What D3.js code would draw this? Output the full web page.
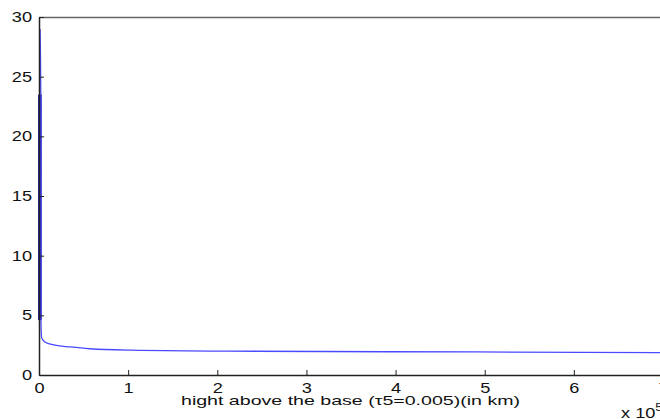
<!DOCTYPE html>
<html>
<head>
<meta charset="utf-8">
<script src="https://cdn.jsdelivr.net/npm/d3@7"></script>
<style>
  body { margin: 0; background: #fff; }
  svg { display: block; font-family: 'Liberation Sans', Arial, sans-serif; }
</style>
</head>
<body>
<svg id="chart" width="660" height="419"></svg>
<script>
// height in units of 1e5 km
const heights = [0.012, 0.02, 0.022, 0.03, 0.07, 0.18, 0.35, 0.57, 1.04, 2.1, 4.9, 7]
const values = [29, 23.5, 4.4, 3.1, 2.75, 2.5, 2.35, 2.2, 2.08, 2.0, 1.93, 1.87]
// dense part near the base that shows as a darker stroke
const denseHeights = [0.01, 0.01]
const denseValues = [23.5, 4.6]

const xTicks = [0, 1, 2, 3, 4, 5, 6, 7]
const yTicks = [0, 5, 10, 15, 20, 25, 30]
const xLabel = 'hight above the base (\u03c45=0.005)(in km)'

const svg = d3.select('#chart')
const margin = { left: 39, top: 17, right: 663, bottom: 375 }
const sx = 1.3 // the text in the picture is stretched sideways

const x = d3.scaleLinear().domain([0, 7]).range([margin.left, margin.right])
const y = d3.scaleLinear().domain([0, 30]).range([margin.bottom, margin.top])

// top border
svg.append('line')
  .attr('x1', x(0)).attr('x2', x(7))
  .attr('y1', y(30) + 0.5).attr('y2', y(30) + 0.5)
  .attr('stroke', '#666').attr('stroke-width', 1.5)

svg.append('line')
  .attr('x1', x(7)).attr('x2', x(7))
  .attr('y1', y(30)).attr('y2', y(0))
  .attr('stroke', '#666').attr('stroke-width', 1.5)

const line = d3.line()
  .x(d => x(d[0]))
  .y(d => y(d[1]))

svg.append('path')
  .datum(d3.zip(denseHeights, denseValues))
  .attr('d', line)
  .attr('fill', 'none')
  .attr('stroke', '#00008b')
  .attr('stroke-width', 3.5)

svg.append('path')
  .datum(d3.zip(heights, values))
  .attr('d', line.curve(d3.curveMonotoneX))
  .attr('fill', 'none')
  .attr('stroke', '#4a4aff')
  .attr('stroke-width', 1.3)

// axes
const xAxis = d3.axisBottom(x).tickValues(xTicks).tickFormat(d3.format('d'))
  .tickSizeInner(-5).tickSizeOuter(0).tickPadding(8)
const yAxis = d3.axisLeft(y).tickValues(yTicks).tickFormat(d3.format('d'))
  .tickSizeInner(-5).tickSizeOuter(0).tickPadding(7)

const gx = svg.append('g').attr('transform', `translate(0,${margin.bottom})`).call(xAxis)
const gy = svg.append('g').attr('transform', `translate(${margin.left},0)`).call(yAxis)

;[gx, gy].forEach(g => {
  g.select('.domain').attr('stroke', '#222').attr('stroke-width', 1.5)
  g.selectAll('.tick line').attr('stroke', '#222')
  g.selectAll('.tick text').attr('font-size', 14).attr('fill', '#111')
    .attr('font-family', "'Liberation Sans', Arial, sans-serif")
})
gy.selectAll('.tick text').attr('x', -7 / sx).attr('transform', `scale(${sx},1)`)
gx.selectAll('.tick text').attr('transform', `scale(${sx},1)`)

svg.append('text')
  .attr('x', 181)
  .attr('y', 405)
  .attr('font-size', 13)
  .attr('textLength', 339)
  .attr('lengthAdjust', 'spacingAndGlyphs')
  .attr('fill', '#111')
  .text(xLabel)

const ex = svg.append('text')
  .attr('transform', `translate(621,418) scale(${sx},1)`)
  .attr('font-size', 14)
  .attr('fill', '#111')
ex.append('tspan').text('x 10')
ex.append('tspan').attr('dy', -7).attr('font-size', 10).text('5')
</script>
</body>
</html>
